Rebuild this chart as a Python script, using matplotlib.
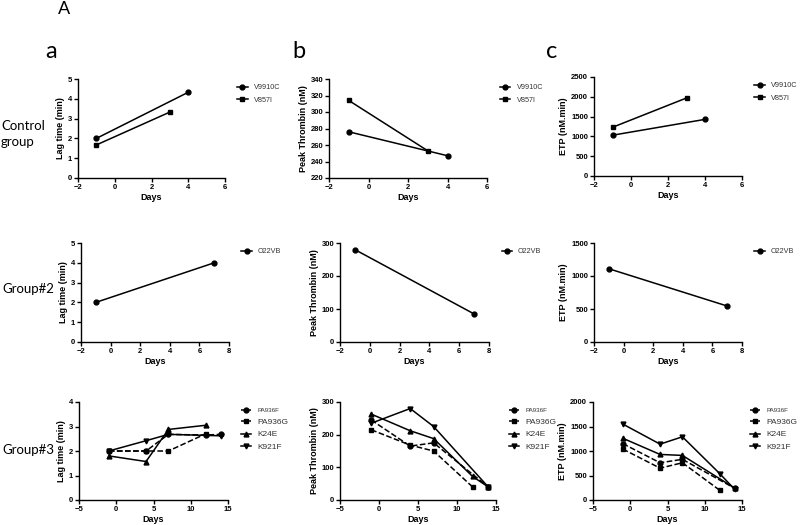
import matplotlib
matplotlib.use("Agg")
import matplotlib.pyplot as plt

# ---- data ----
# Control group
ctrl_names = ["V9910C", "V857I"]
ctrl_days = [[-1, 4], [-1, 3]]
ctrl_lag = [[2.0, 4.33], [1.67, 3.33]]
ctrl_peak = [[276, 247], [314, 253]]
ctrl_etp = [[1030, 1430], [1230, 1970]]

# Group#2
g2_names = ["O22VB"]
g2_days = [[-1, 7]]
g2_lag = [[2.0, 4.0]]
g2_peak = [[280, 85]]
g2_etp = [[1110, 545]]

# Group#3
g3_names = ["PA936F", "PA936G", "K24E", "K921F"]
g3_days_lag = [[-1, 4, 7, 12, 14], [-1, 4, 7, 12], [-1, 4, 7, 12], [-1, 4, 7, 14]]
g3_lag = [[2.0, 2.0, 2.68, 2.65, 2.68], [2.0, 2.0, 2.0, 2.7], [1.8, 1.57, 2.88, 3.05],
          [2.0, 2.42, 2.68, 2.62]]
g3_days_peak = [[-1, 4, 7, 14], [-1, 4, 7, 12], [-1, 4, 7, 12, 14], [-1, 4, 7, 14]]
g3_peak = [[245, 165, 175, 40], [215, 168, 150, 40], [263, 212, 188, 72, 40],
           [235, 280, 225, 40]]
g3_days_etp = [[-1, 4, 7, 14], [-1, 4, 7, 12], [-1, 4, 7, 14], [-1, 4, 7, 12, 14]]
g3_etp = [[1150, 760, 830, 240], [1040, 650, 760, 200], [1260, 930, 910, 245],
          [1550, 1140, 1290, 540, 220]]

markers = ["o", "s", "^", "v"]
g3_styles = ["--", "--", "-", "-"]
g3_legend_sizes = [4.5, 6.0, 6.0, 6.0]

plt.rcParams["font.family"] = ["Liberation Sans", "DejaVu Sans"]

fig = plt.figure(figsize=(8, 5.25), dpi=100)
W, H = 800, 525


def add_axes(left, top, right, bottom):
    return fig.add_axes([left / W, 1 - bottom / H, (right - left) / W, (bottom - top) / H])


def style(ax, xlim, xticks, ylim, yticks, ylabel):
    ax.set_xlim(xlim)
    ax.set_ylim(ylim)
    ax.set_xticks(xticks)
    ax.set_yticks(yticks)
    for s in ["top", "right"]:
        ax.spines[s].set_visible(False)
    for s in ["left", "bottom"]:
        ax.spines[s].set_linewidth(1.0)
    ax.tick_params(direction="out", length=3, width=1, labelsize=5.5, pad=1.2)
    for lab in ax.get_xticklabels() + ax.get_yticklabels():
        lab.set_fontweight("bold")
    ax.set_xlabel("Days", fontsize=6.5, fontweight="bold", labelpad=1.5)
    ax.set_ylabel(ylabel, fontsize=6.5, fontweight="bold", labelpad=2)


def draw(ax, days, vals, names, styles=None, lsizes=None, anchor_x=1.05):
    for i, name in enumerate(names):
        ls = styles[i] if styles else "-"
        ax.plot(days[i], vals[i], color="black", linestyle=ls, linewidth=1.1,
                marker=markers[i], markersize=3.5, label=name)
    leg = ax.legend(loc="upper left", bbox_to_anchor=(anchor_x, 1.0), frameon=False,
                    handlelength=1.4, fontsize=5.2, labelspacing=0.75, handletextpad=0.9,
                    borderaxespad=0.3)
    for i, t in enumerate(leg.get_texts()):
        t.set_color("#333333")
        if lsizes:
            t.set_fontsize(lsizes[i])


# Row 1: Control group
ax = add_axes(78, 79, 225, 178)
draw(ax, ctrl_days, ctrl_lag, ctrl_names)
style(ax, (-2, 6), [-2, 0, 2, 4, 6], (0, 5), [0, 1, 2, 3, 4, 5], "Lag time (min)")

ax = add_axes(329, 79, 487, 178)
draw(ax, ctrl_days, ctrl_peak, ctrl_names)
style(ax, (-2, 6), [-2, 0, 2, 4, 6], (220, 340), [220, 240, 260, 280, 300, 320, 340],
      "Peak Thrombin (nM)")

ax = add_axes(594, 77, 742, 176)
draw(ax, ctrl_days, ctrl_etp, ctrl_names)
style(ax, (-2, 6), [-2, 0, 2, 4, 6], (0, 2500), [0, 500, 1000, 1500, 2000, 2500],
      "ETP (nM.min)")

# Row 2: Group#2
ax = add_axes(81, 243, 229, 342)
draw(ax, g2_days, g2_lag, g2_names)
style(ax, (-2, 8), [-2, 0, 2, 4, 6, 8], (0, 5), [0, 1, 2, 3, 4, 5], "Lag time (min)")

ax = add_axes(340, 243, 489, 342)
draw(ax, g2_days, g2_peak, g2_names)
style(ax, (-2, 8), [-2, 0, 2, 4, 6, 8], (0, 300), [0, 100, 200, 300], "Peak Thrombin (nM)")

ax = add_axes(594, 243, 742, 342)
draw(ax, g2_days, g2_etp, g2_names)
style(ax, (-2, 8), [-2, 0, 2, 4, 6, 8], (0, 1500), [0, 500, 1000, 1500], "ETP (nM.min)")

# Row 3: Group#3
ax = add_axes(79, 402, 228, 500)
draw(ax, g3_days_lag, g3_lag, g3_names, g3_styles, g3_legend_sizes)
style(ax, (-5, 15), [-5, 0, 5, 10, 15], (0, 4), [0, 1, 2, 3, 4], "Lag time (min)")

ax = add_axes(340, 402, 496, 500)
draw(ax, g3_days_peak, g3_peak, g3_names, g3_styles, g3_legend_sizes)
style(ax, (-5, 15), [-5, 0, 5, 10, 15], (0, 300), [0, 100, 200, 300], "Peak Thrombin (nM)")

ax = add_axes(593, 402, 742, 500)
draw(ax, g3_days_etp, g3_etp, g3_names, g3_styles, g3_legend_sizes, anchor_x=1.02)
style(ax, (-5, 15), [-5, 0, 5, 10, 15], (0, 2000), [0, 500, 1000, 1500, 2000], "ETP (nM.min)")

# panel and row labels
lab_font = ["Lato", "DejaVu Sans"]
fig.text(58 / W, 1 - 9 / H, "A", fontsize=13, family=lab_font, va="center")
fig.text(45 / W, 1 - 51 / H, "a", fontsize=17, family=lab_font, va="center")
fig.text(292 / W, 1 - 51 / H, "b", fontsize=17, family=lab_font, va="center")
fig.text(546 / W, 1 - 51 / H, "c", fontsize=17, family=lab_font, va="center")
fig.text(1 / W, 1 - 134 / H, "Control\ngroup", fontsize=9.5, family=lab_font, va="center",
         linespacing=1.3)
fig.text(2 / W, 1 - 289 / H, "Group#2", fontsize=9.5, family=lab_font, va="center")
fig.text(2 / W, 1 - 450 / H, "Group#3", fontsize=9.5, family=lab_font, va="center")

fig.savefig("out.png", dpi=100)
